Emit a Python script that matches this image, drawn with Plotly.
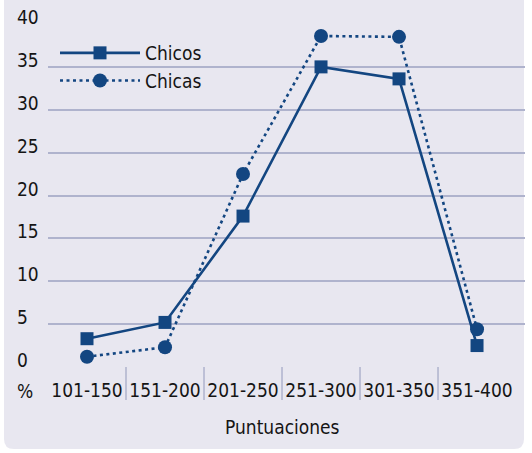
import plotly.graph_objects as go

# ---------- data ----------
categorias = ["101-150", "151-200", "201-250", "251-300", "301-350", "351-400"]
chicos = [3.3, 5.2, 17.6, 35.0, 33.6, 2.5]
chicas = [1.2, 2.3, 22.5, 38.6, 38.5, 4.4]
y_ticks = [0, 5, 10, 15, 20, 25, 30, 35, 40]

AZUL = "#134681"
FONDO = "#e8e7f0"
REJILLA = "#afb3cd"
TEXTO = "#151515"
FUENTE = "DejaVu Sans Condensed, DejaVu Sans"
TAM = 19

W, H = 532, 453
ML, MR, MT, MB = 48, 7, 24, 86
PW, PH = W - ML - MR, H - MT - MB


def px_x(p):
    return (p - ML) / PW


def px_y(p):
    return (H - MB - p) / PH


fuente = dict(family=FUENTE, size=TAM, color=TEXTO)

fig = go.Figure()

fig.add_trace(go.Scatter(
    x=categorias, y=chicos, name="Chicos",
    mode="lines+markers",
    line=dict(color=AZUL, width=2.6),
    marker=dict(symbol="square", size=13, color=AZUL),
))
fig.add_trace(go.Scatter(
    x=categorias, y=chicas, name="Chicas",
    mode="lines+markers",
    line=dict(color=AZUL, width=2.6, dash="3px,3.5px"),
    marker=dict(symbol="circle", size=14, color=AZUL),
))

# panel de fondo con esquinas inferiores redondeadas
x0, x1 = px_x(4), px_x(524)
y0, y1 = px_y(449), px_y(0)
rx, ry = 10 / PW, 10 / PH
panel = (f"M {x0},{y1} L {x1},{y1} L {x1},{y0 + ry} Q {x1},{y0} {x1 - rx},{y0} "
         f"L {x0 + rx},{y0} Q {x0},{y0} {x0},{y0 + ry} Z")
shapes = [dict(type="path", path=panel, xref="paper", yref="paper",
               fillcolor=FONDO, line=dict(width=0), layer="below")]

# separadores entre categorias
for i in range(len(categorias) - 1):
    shapes.append(dict(type="line", xref="x", yref="paper",
                       x0=i + 0.5, x1=i + 0.5, y0=px_y(400), y1=0,
                       line=dict(color=REJILLA, width=1.5), layer="below"))

annotations = []
for v in y_ticks:
    annotations.append(dict(text=str(v), x=px_x(15), xref="paper", y=v, yref="y",
                            xanchor="left", yanchor="middle", yshift=7,
                            showarrow=False, font=fuente))
annotations.append(dict(text="%", x=px_x(15), xref="paper", y=px_y(391), yref="paper",
                        xanchor="left", yanchor="middle", showarrow=False,
                        font=fuente))
annotations.append(dict(text="Puntuaciones", x=2.5, xref="x", y=px_y(427), yref="paper",
                        xanchor="center", yanchor="middle", showarrow=False,
                        font=fuente))

fig.update_layout(
    width=W, height=H,
    margin=dict(l=ML, r=MR, t=MT, b=MB),
    paper_bgcolor="white",
    plot_bgcolor="rgba(0,0,0,0)",
    font=fuente,
    shapes=shapes,
    annotations=annotations,
    showlegend=True,
    legend=dict(x=px_x(55), y=px_y(34), xanchor="left", yanchor="top",
                bgcolor="rgba(0,0,0,0)", itemwidth=80,
                font=fuente, tracegroupgap=0),
)
fig.update_xaxes(type="category", range=[-0.5, 5.615], showgrid=False,
                 zeroline=False, showline=False, ticks="",
                 ticklabelstandoff=10, tickfont=fuente)
fig.update_yaxes(range=[0, 40], tickvals=y_ticks, showticklabels=False,
                 showgrid=True, gridcolor=REJILLA, gridwidth=1.5,
                 zeroline=False, showline=False, ticks="")

# sin margen del body para que la figura empiece en (0, 0)
fig.write_html("out.html", config={"displayModeBar": False},
               post_script="document.body.style.margin='0';")
